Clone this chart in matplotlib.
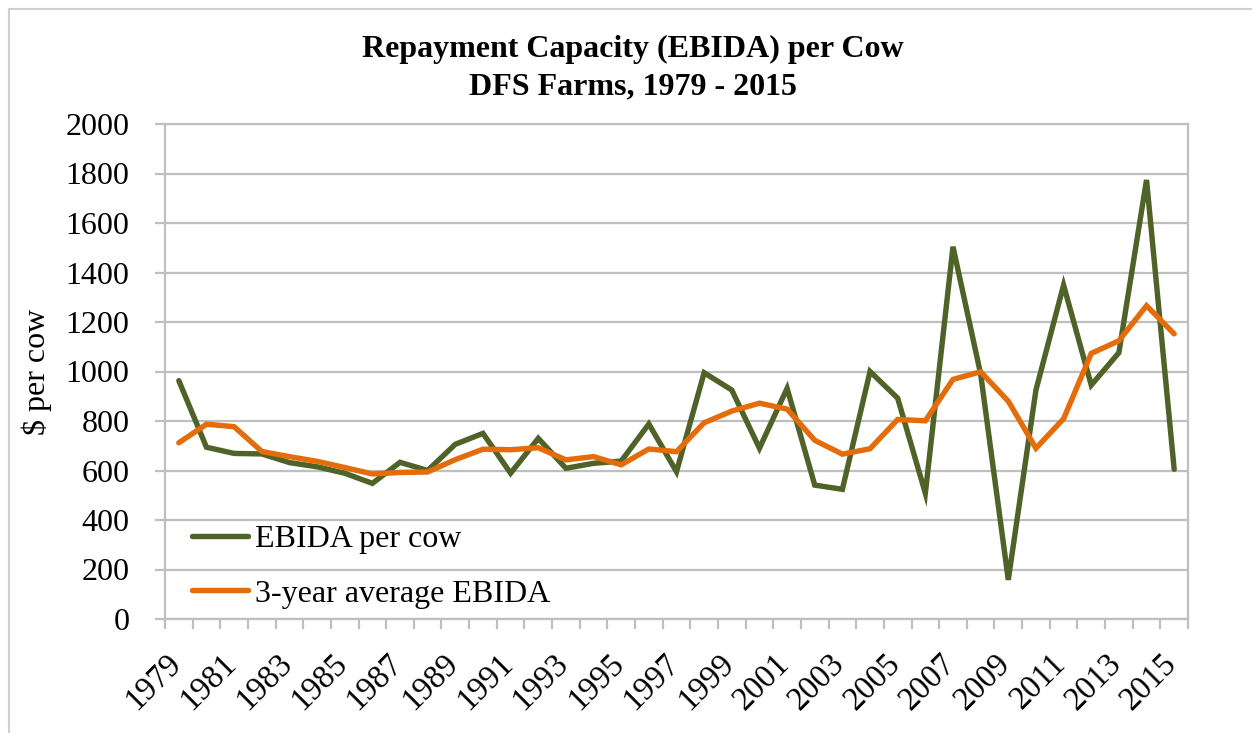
import matplotlib
matplotlib.use("Agg")
import matplotlib.pyplot as plt
from matplotlib.lines import Line2D
from matplotlib.ticker import FixedLocator, NullFormatter
import matplotlib.transforms as mtransforms

plt.rcParams['font.family'] = ['Liberation Serif', 'DejaVu Serif']

years = list(range(1979, 2016))
ebida_per_cow = [963, 694, 669, 667, 632, 615, 589, 548, 633, 600,
                 706, 750, 589, 730, 609, 629, 638, 788, 595, 995,
                 925, 690, 932, 541, 524, 1000, 892, 508, 1504, 990,
                 158, 925, 1349, 945, 1076, 1774, 605]
ebida_3yr_avg = [712, 787, 777, 677, 656, 637, 612, 586, 592, 594,
                 644, 686, 684, 692, 643, 656, 623, 687, 676, 793,
                 840, 872, 848, 722, 666, 688, 806, 801, 968, 999,
                 880, 690, 809, 1073, 1124, 1266, 1152]
y_ticks = [0, 200, 400, 600, 800, 1000, 1200, 1400, 1600, 1800, 2000]

GREEN = '#4F6228'
ORANGE = '#E46C0A'
GRID = '#BFBFBF'

W, H = 1252, 733
fig = plt.figure(figsize=(W / 100, H / 100), dpi=100)
ax = fig.add_axes([165 / W, (H - 619) / H, (1188 - 165) / W, (619 - 124) / H])

x = list(range(len(years)))
ax.plot(x, ebida_per_cow, color=GREEN, lw=3.9, solid_joinstyle='miter',
        solid_capstyle='round', label='EBIDA per cow', zorder=3)
ax.plot(x, ebida_3yr_avg, color=ORANGE, lw=3.9, solid_joinstyle='miter',
        solid_capstyle='round', label='3-year average EBIDA', zorder=4)

ax.set_xlim(-0.5, len(years) - 0.5)
ax.set_ylim(0, 2000)

# y axis
ax.set_yticks(y_ticks)
ax.set_yticklabels([str(v) for v in y_ticks], fontsize=23)
ax.yaxis.grid(True, color=GRID, lw=1.6)
ax.tick_params(axis='y', length=7.5, width=1.6, color=GRID, pad=18)
ax.set_axisbelow(True)

# x axis: labels on every other year, ticks on category boundaries
label_pos = x[::2]
ax.set_xticks(label_pos)
ax.set_xticklabels([str(years[i]) for i in label_pos], fontsize=23.5,
                   rotation=45, ha='right', va='top', rotation_mode='anchor')
ax.tick_params(axis='x', which='major', length=0, pad=21)
ax.xaxis.set_minor_locator(FixedLocator([i - 0.5 for i in range(len(years) + 1)]))
ax.xaxis.set_minor_formatter(NullFormatter())
ax.tick_params(axis='x', which='minor', length=7, width=1.6, color=GRID)
shift = mtransforms.ScaledTranslation(-13 / 100, 0, fig.dpi_scale_trans)
for lbl in ax.get_xticklabels():
    lbl.set_transform(lbl.get_transform() + shift)

for side in ['left', 'bottom', 'right', 'top']:
    ax.spines[side].set_color(GRID)
    ax.spines[side].set_linewidth(1.6)

ax.set_ylabel('$ per cow', fontsize=23, labelpad=10)

leg = ax.legend(loc='lower left', bbox_to_anchor=(170 / W, (H - 631) / H),
                bbox_transform=fig.transFigure, frameon=False, fontsize=23,
                handlelength=1.75, handletextpad=0.2, labelspacing=0.8,
                borderpad=0.2)

fig.text(633 / W, 1 - 49 / H, 'Repayment Capacity (EBIDA) per Cow',
         ha='center', va='center', fontsize=23, fontweight='bold')
fig.text(633 / W, 1 - 87 / H, 'DFS Farms, 1979 - 2015',
         ha='center', va='center', fontsize=23, fontweight='bold')

# chart frame
fig.add_artist(Line2D([9 / W, 1], [1 - 8.5 / H, 1 - 8.5 / H],
                      transform=fig.transFigure, color='#D0D0D0', lw=1.5))
fig.add_artist(Line2D([9 / W, 9 / W], [0, 1 - 8.5 / H],
                      transform=fig.transFigure, color='#D0D0D0', lw=1.5))

fig.savefig('out.png', dpi=100)
